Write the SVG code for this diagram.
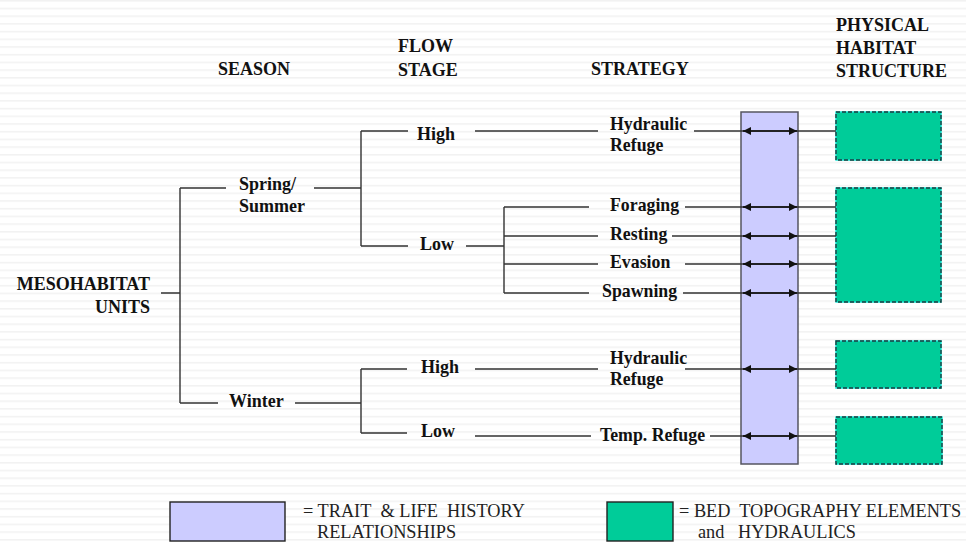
<svg xmlns="http://www.w3.org/2000/svg" width="966" height="543" viewBox="0 0 966 543">
<defs>
<pattern id="stripes" x="0" y="0" width="966" height="7.7" patternUnits="userSpaceOnUse">
<rect x="0" y="0" width="966" height="7.7" fill="#ffffff"/>
<rect x="0" y="0" width="966" height="1.5" fill="#f2f2f2"/>
</pattern>
<marker id="ah" viewBox="0 0 10 10" refX="10" refY="5" markerWidth="9" markerHeight="8" markerUnits="userSpaceOnUse" orient="auto-start-reverse">
<path d="M0,0 L10,5 L0,10 Z" fill="#111"/>
</marker>
<style>
.b{font-weight:bold;font-size:18px;fill:#111}
.s{font-weight:bold;font-size:17.8px;fill:#111}
.r{font-size:18.3px;fill:#222}
.ln{stroke:#333;stroke-width:1.4;fill:none}
.ar{stroke:#111;stroke-width:1.4;fill:none;marker-start:url(#ah);marker-end:url(#ah)}
.pb{fill:#ccccff;stroke:#555560;stroke-width:1.5}
.gb{fill:#00cc99;stroke:#10e0d0;stroke-width:1.4}
.gd{fill:none;stroke:#1a3a3a;stroke-width:1.4;stroke-dasharray:4 2}
</style>
</defs>
<rect width="966" height="543" fill="url(#stripes)"/>
<g font-family="Liberation Serif, Times New Roman, serif">

<g id="headers">
<text class="b" x="218" y="75">SEASON</text>
<text class="b" x="398" y="52">FLOW</text>
<text class="b" x="398" y="76">STAGE</text>
<text class="b" x="591" y="75">STRATEGY</text>
<text class="b" x="836" y="31">PHYSICAL</text>
<text class="b" x="836" y="54">HABITAT</text>
<text class="b" x="836" y="77">STRUCTURE</text>
</g>

<g id="trait-bar"><rect class="pb" x="741" y="112" width="57" height="352"/></g>
<g id="habitat-1"><rect class="gb" x="836" y="112" width="105" height="48"/><rect class="gd" x="836" y="112" width="105" height="48"/></g>
<g id="habitat-2"><rect class="gb" x="836" y="188" width="105" height="114"/><rect class="gd" x="836" y="188" width="105" height="114"/></g>
<g id="habitat-3"><rect class="gb" x="836" y="341" width="105" height="47"/><rect class="gd" x="836" y="341" width="105" height="47"/></g>
<g id="habitat-4"><rect class="gb" x="836" y="417" width="106" height="47"/><rect class="gd" x="836" y="417" width="106" height="47"/></g>

<g id="connectors">
<path class="ln" d="M161,293 H180 M180,188 V403 M180,188 H226 M180,403 H218"/>
<path class="ln" d="M314,188 H361 M361,131 V246 M361,131 H408 M361,246 H408"/>
<path class="ln" d="M295,403 H361 M361,369 V433 M361,369 H407 M361,433 H407"/>
<path class="ln" d="M475,131 H598 M466,246 H504 M504,207 V293 M504,207 H589 M504,236 H598 M504,264 H598 M504,293 H589"/>
<path class="ln" d="M475,369 H598 M475,436 H591"/>
<path class="ln" d="M694,131 H836 M685,207 H836 M672,236 H836 M685,264 H836 M683,293 H836 M685,369 H836 M710,436 H836"/>
<line class="ar" x1="743" y1="131" x2="797" y2="131"/>
<line class="ar" x1="743" y1="207" x2="797" y2="207"/>
<line class="ar" x1="743" y1="236" x2="797" y2="236"/>
<line class="ar" x1="743" y1="264" x2="797" y2="264"/>
<line class="ar" x1="743" y1="293" x2="797" y2="293"/>
<line class="ar" x1="743" y1="369" x2="797" y2="369"/>
<line class="ar" x1="743" y1="436" x2="797" y2="436"/>
</g>

<g id="mesohabitat">
<text class="b" x="150" y="290" text-anchor="end">MESOHABITAT</text>
<text class="b" x="150" y="313" text-anchor="end">UNITS</text>
</g>
<g id="spring-summer">
<text class="b" x="239" y="190">Spring/</text>
<text class="b" x="239" y="212">Summer</text>
</g>
<g id="winter"><text class="b" x="229" y="407">Winter</text></g>
<g id="ss-high"><text class="b" x="417" y="140">High</text></g>
<g id="ss-low"><text class="b" x="420" y="250">Low</text></g>
<g id="w-high"><text class="b" x="421" y="373">High</text></g>
<g id="w-low"><text class="b" x="421" y="437">Low</text></g>

<g id="ss-hydraulic-refuge">
<text class="s" x="610" y="130">Hydraulic</text>
<text class="s" x="610" y="151">Refuge</text>
</g>
<g id="foraging"><text class="s" x="610" y="211">Foraging</text></g>
<g id="resting"><text class="s" x="610" y="240">Resting</text></g>
<g id="evasion"><text class="s" x="610" y="268">Evasion</text></g>
<g id="spawning"><text class="s" x="602" y="297">Spawning</text></g>
<g id="w-hydraulic-refuge">
<text class="s" x="610" y="364">Hydraulic</text>
<text class="s" x="610" y="385">Refuge</text>
</g>
<g id="temp-refuge"><text class="s" x="600" y="441">Temp. Refuge</text></g>

<g id="legend-trait">
<rect x="170" y="502" width="115" height="39" fill="#ccccff" stroke="#222" stroke-width="1.4"/>
<text class="r" x="303" y="517">= TRAIT&#160; &amp; LIFE&#160; HISTORY</text>
<text class="r" x="317" y="538">RELATIONSHIPS</text>
</g>
<g id="legend-bed">
<rect x="607" y="502" width="66" height="39" fill="#00cc99" stroke="#222" stroke-width="1.4"/>
<text class="r" x="679" y="517">= BED&#160; TOPOGRAPHY ELEMENTS</text>
<text class="r" x="698" y="538">and&#160;&#160; HYDRAULICS</text>
</g>
</g>
</svg>
